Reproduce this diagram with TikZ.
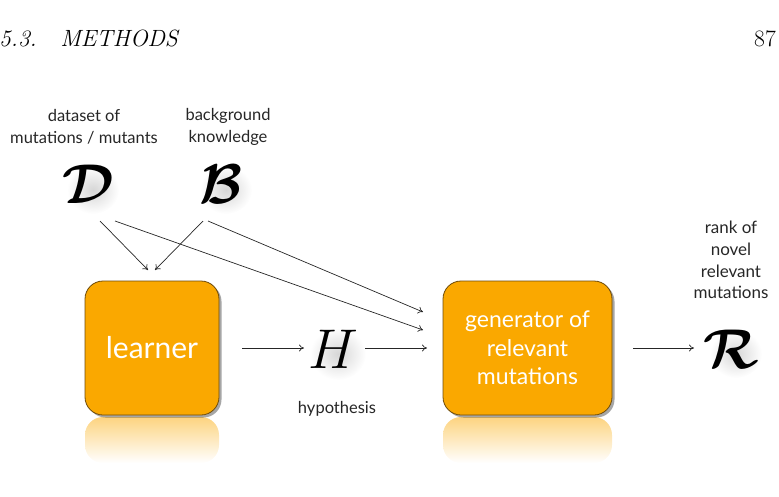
\documentclass[tikz,border=0pt]{standalone}
\usepackage{fix-cm}
\usepackage{amsmath}
\usepackage{fontspec}
\newfontfamily\gill{Lato}
\usetikzlibrary{shadows,arrows.meta}
\definecolor{boxc}{RGB}{250,168,0}
\definecolor{boxedge}{RGB}{110,75,10}
\begin{document}
\begin{tikzpicture}[x=1pt,y=-1pt,
  box/.style={draw=boxedge, line width=0.8pt, fill=boxc, rounded corners=18pt,
    minimum height=134pt, inner sep=0pt,
    drop shadow={shadow xshift=2.5pt, shadow yshift=-2.5pt, opacity=0.35, fill=black},
    text=white, align=center},
  refl/.style={top color=boxc!50!white, bottom color=white, rounded corners=18pt},
  lbl/.style={font=\gill\fontsize{16.5}{21.5}\selectfont, text=black!85, align=center, inner sep=0pt},
  arr/.style={-{To[length=5pt,width=7pt]}, line width=0.7pt, draw=black!85},
  bigsym/.style={inner sep=0pt, font=\fontsize{56}{56}\selectfont},
  glow/.style={inner color=black!16, outer color=white}]
\useasboundingbox (0,0) rectangle (779,496);

% header
\node[anchor=base west, inner sep=0pt, font=\fontsize{23.5}{23.5}\selectfont\itshape] (hdr) at (-1,46) {5.3.\quad METHODS};
\node[anchor=base east, inner sep=0pt, font=\fontsize{23.5}{23.5}\selectfont] (pg) at (776,46) {87};

% reflections
\shade[refl] (85,463) rectangle (219,417);
\shade[refl] (443,463) rectangle (612,417);

% boxes
\node[box, minimum width=134pt, font=\gill\fontsize{30}{30}\selectfont] (learner) at (152,348) {learner};
\node[box, minimum width=169pt, font=\gill\fontsize{23}{28.5}\selectfont] (gen) at (527.5,348) {generator of\\relevant\\mutations};

% labels
\node[lbl] (Dl) at (84,127) {dataset of\\mutations / mutants};
\node[lbl] (Bl) at (228,127) {background\\knowledge};
\node[lbl, font=\gill\fontsize{17}{21.8}\selectfont] (Rl) at (731,260) {rank of\\novel\\relevant\\mutations};
\node[lbl] (hyp) at (337,409) {hypothesis};

% soft glows behind symbols
\shade[glow] (93,190) ellipse (26 and 24);
\shade[glow] (226,190) ellipse (26 and 24);
\shade[glow] (338,354) ellipse (28 and 26);
\shade[glow] (736,354) ellipse (26 and 24);

% symbols
\node[bigsym] (D) at (88,184) {$\boldsymbol{\mathcal{D}}$};
\node[bigsym] (B) at (221,184) {$\boldsymbol{\mathcal{B}}$};
\node[bigsym] (H) at (333,349) {$H$};
\node[bigsym] (R) at (731,349) {$\boldsymbol{\mathcal{R}}$};

% connector end points
\coordinate (d1) at (100,221);
\coordinate (d2) at (115,221);
\coordinate (b1) at (203,221);
\coordinate (b2) at (208,221);
\coordinate (l1) at (148,270);
\coordinate (l2) at (155,270);
\coordinate (g1) at (423,312);
\coordinate (g2) at (423,330);
\coordinate (lo) at (242,348);
\coordinate (hi) at (304,348);
\coordinate (ho) at (365,348);
\coordinate (gi) at (427,348);
\coordinate (go) at (633,348);
\coordinate (ri) at (694,348);

\draw[arr] (d1) -- (l1);
\draw[arr] (b1) -- (l2);
\draw[arr] (d2) -- (g2);
\draw[arr] (b2) -- (g1);
\draw[arr] (lo) -- (hi);
\draw[arr] (ho) -- (gi);
\draw[arr] (go) -- (ri);
\end{tikzpicture}
\end{document}
